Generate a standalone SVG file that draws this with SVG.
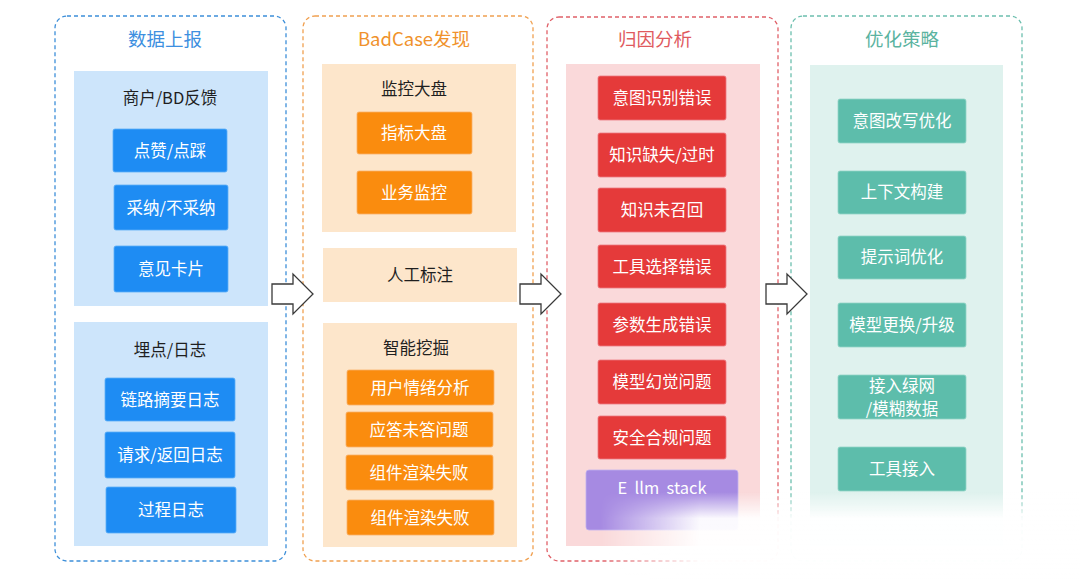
<svg xmlns="http://www.w3.org/2000/svg" width="1080" height="580" viewBox="0 0 1080 580">
<defs>
<style>
text{font-family:"Noto Sans CJK SC","Liberation Sans",sans-serif;text-anchor:middle;dominant-baseline:central}
.col{fill:#fff;stroke-width:1.3;stroke-dasharray:4 3}
.ttl{font-size:18.5px}
.sub{font-size:16.5px;fill:#1f1f1f}
.btn{font-size:16.5px;fill:#fff}
.b1{fill:#1e8cf3;stroke:#5aaef7;stroke-width:0.8}
.b2{fill:#fa8c0e;stroke:#f9b068;stroke-width:0.8}
.b3{fill:#e53a3a;stroke:#ec7a82;stroke-width:0.8}
.b4{fill:#5dbdab;stroke:#93d4c7;stroke-width:0.8}
.arr{fill:#fff;stroke:#3a3a3a;stroke-width:1.3;stroke-linejoin:miter}
</style>
<linearGradient id="fadeV" x1="0" y1="0" x2="0" y2="1">
<stop offset="0" stop-color="#fff" stop-opacity="0"/>
<stop offset="0.3" stop-color="#fff" stop-opacity="0.95"/>
<stop offset="1" stop-color="#fff" stop-opacity="1"/>
</linearGradient>
<linearGradient id="maskH" gradientUnits="userSpaceOnUse" x1="600" y1="0" x2="700" y2="0">
<stop offset="0" stop-color="#fff" stop-opacity="0"/>
<stop offset="1" stop-color="#fff" stop-opacity="1"/>
</linearGradient>
<mask id="fadeMask" maskUnits="userSpaceOnUse" x="0" y="0" width="1080" height="580">
<rect x="600" y="480" width="480" height="100" fill="url(#maskH)"/>
</mask>
</defs>
<rect width="1080" height="580" fill="#fff"/>

<g id="col-data">
<rect class="col" x="55" y="16" width="231" height="545" rx="12" stroke="#3d8fd9"/>
<text class="ttl" x="165" y="38" fill="#3d8fe0">数据上报</text>
<g id="panel-feedback">
<rect x="74" y="71" width="194" height="235" fill="#cde5fb"/>
<text class="sub" x="170" y="97">商户/BD反馈</text>
<rect class="b1" x="113" y="129" width="114" height="43" rx="2"/>
<text class="btn" x="170" y="150">点赞/点踩</text>
<rect class="b1" x="114" y="185" width="114" height="45" rx="2"/>
<text class="btn" x="171" y="207">采纳/不采纳</text>
<rect class="b1" x="114" y="246" width="114" height="46" rx="2"/>
<text class="btn" x="171" y="268">意见卡片</text>
</g>
<g id="panel-log">
<rect x="74" y="322" width="194" height="224" fill="#cde5fb"/>
<text class="sub" x="170" y="349">埋点/日志</text>
<rect class="b1" x="105" y="378" width="130" height="43" rx="2"/>
<text class="btn" x="170" y="399">链路摘要日志</text>
<rect class="b1" x="105" y="432" width="130" height="46" rx="2"/>
<text class="btn" x="170" y="454">请求/返回日志</text>
<rect class="b1" x="106" y="487" width="130" height="46" rx="2"/>
<text class="btn" x="171" y="509">过程日志</text>
</g>
</g>

<g id="col-badcase">
<rect class="col" x="303" y="16" width="230" height="545" rx="12" stroke="#f0a050"/>
<text class="ttl" x="414" y="38" fill="#f0922c">BadCase发现</text>
<g id="panel-monitor">
<rect x="322" y="64" width="194" height="168" fill="#fde6cb"/>
<text class="sub" x="414" y="88">监控大盘</text>
<rect class="b2" x="357" y="112" width="115" height="42" rx="2"/>
<text class="btn" x="414" y="132">指标大盘</text>
<rect class="b2" x="357" y="171" width="115" height="43" rx="2"/>
<text class="btn" x="414" y="192">业务监控</text>
</g>
<g id="panel-manual">
<rect x="323" y="248" width="194" height="54" fill="#fde6cb"/>
<text class="sub" x="420" y="274">人工标注</text>
</g>
<g id="panel-mining">
<rect x="323" y="323" width="194" height="224" fill="#fde6cb"/>
<text class="sub" x="416" y="347">智能挖掘</text>
<rect class="b2" x="347" y="370" width="147" height="35" rx="2"/>
<text class="btn" x="420" y="387">用户情绪分析</text>
<rect class="b2" x="346" y="412" width="147" height="35" rx="2"/>
<text class="btn" x="419" y="429">应答未答问题</text>
<rect class="b2" x="346" y="455" width="147" height="35" rx="2"/>
<text class="btn" x="419" y="472">组件渲染失败</text>
<rect class="b2" x="347" y="500" width="147" height="35" rx="2"/>
<text class="btn" x="420" y="517">组件渲染失败</text>
</g>
</g>

<g id="col-cause">
<rect class="col" x="547" y="17" width="231" height="544" rx="12" stroke="#e06068"/>
<text class="ttl" x="655" y="38" fill="#e05a5e">归因分析</text>
<rect x="566" y="64" width="194" height="482" fill="#fad9da"/>
<rect class="b3" x="598" y="76" width="128" height="44" rx="2"/>
<text class="btn" x="662" y="97">意图识别错误</text>
<rect class="b3" x="598" y="133" width="128" height="44" rx="2"/>
<text class="btn" x="662" y="154">知识缺失/过时</text>
<rect class="b3" x="598" y="188" width="128" height="44" rx="2"/>
<text class="btn" x="662" y="209">知识未召回</text>
<rect class="b3" x="598" y="245" width="128" height="43" rx="2"/>
<text class="btn" x="662" y="266">工具选择错误</text>
<rect class="b3" x="598" y="303" width="128" height="43" rx="2"/>
<text class="btn" x="662" y="324">参数生成错误</text>
<rect class="b3" x="598" y="360" width="128" height="44" rx="2"/>
<text class="btn" x="662" y="381">模型幻觉问题</text>
<rect class="b3" x="598" y="416" width="128" height="43" rx="2"/>
<text class="btn" x="662" y="437">安全合规问题</text>
<rect x="586" y="470" width="152" height="60" rx="3" fill="#a68ae2" stroke="#c0b0f0" stroke-width="0.8"/>
<text class="btn" x="662" y="487" style="white-space:pre">E  llm  stack</text>
</g>

<g id="col-opt">
<rect class="col" x="791" y="16" width="231" height="545" rx="12" stroke="#6cbfae"/>
<text class="ttl" x="902" y="38" fill="#5ab3a0">优化策略</text>
<rect x="810" y="65" width="193" height="481" fill="#dff2ee"/>
<rect class="b4" x="838" y="99" width="128" height="44" rx="2"/>
<text class="btn" x="902" y="120">意图改写优化</text>
<rect class="b4" x="838" y="171" width="128" height="43" rx="2"/>
<text class="btn" x="902" y="191">上下文构建</text>
<rect class="b4" x="838" y="236" width="128" height="43" rx="2"/>
<text class="btn" x="902" y="256">提示词优化</text>
<rect class="b4" x="838" y="303" width="128" height="44" rx="2"/>
<text class="btn" x="902" y="324">模型更换/升级</text>
<rect class="b4" x="838" y="375" width="128" height="44" rx="2"/>
<text class="btn" x="902" y="385">接入绿网</text>
<text class="btn" x="902" y="408">/模糊数据</text>
<rect class="b4" x="838" y="447" width="128" height="44" rx="2"/>
<text class="btn" x="902" y="468">工具接入</text>
</g>

<g id="fade" mask="url(#fadeMask)">
<rect x="600" y="492" width="480" height="88" fill="url(#fadeV)"/>
</g>

<g id="connectors">
<path class="arr" d="M272 284 H293 V274 L313 294 L293 314 V304 H272 Z"/>
<path class="arr" d="M520 284 H541 V274 L561 294 L541 314 V304 H520 Z"/>
<path class="arr" d="M766 284 H787 V274 L807 294 L787 314 V304 H766 Z"/>
</g>
</svg>
